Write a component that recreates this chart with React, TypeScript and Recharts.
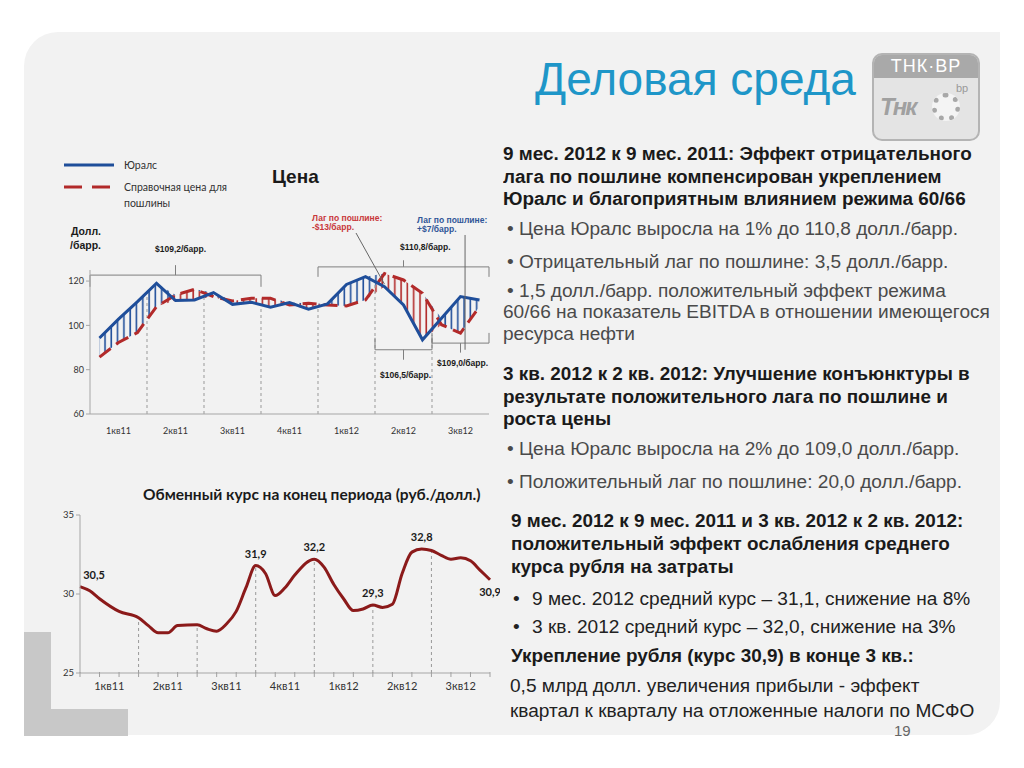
import React from 'react'
import {
  ComposedChart, LineChart, Line, Area, XAxis, YAxis, ReferenceLine, ReferenceDot,
} from 'recharts'

// quarters shown on both x axes
const quarters = ['1кв11', '2кв11', '3кв11', '4кв11', '1кв12', '2кв12', '3кв12']

// monthly prices, $/bbl (Jan 2011 .. Sep 2012)
const uralsPrice = [94.3, 102.8, 110.7, 119, 111.2, 111.5, 114.8, 109.5, 110.4, 108.2, 110.3, 107.3, 109.7, 118.5, 122, 117.5, 109.2, 93.5, 103.2, 113, 111.5]
const dutyRefPrice = [85.7, 92.3, 96.8, 108.5, 113.7, 116.3, 113, 111, 112.2, 112.2, 109.2, 110, 109.2, 108.8, 111.5, 123.4, 120.5, 114.5, 100.3, 96.5, 108.5]

// rub/usd exchange rate, sampled every half month
const rubMonth = [0, 0.5, 1, 2, 3, 3.5, 4, 4.5, 5, 6, 6.5, 7, 7.5, 8, 8.5, 9, 9.5, 10, 10.5, 11, 12, 12.5, 13, 13.5, 14, 14.5, 15, 15.5, 16, 16.5, 17, 17.5, 18, 18.5, 19, 19.5, 20, 20.5, 21]
const rubRate = [30.47, 30.2, 29.7, 28.9, 28.5, 28.0, 27.55, 27.55, 28.0, 28.05, 27.8, 27.65, 28.1, 28.9, 30.4, 31.8, 31.3, 29.9, 30.4, 31.2, 32.2, 31.7, 30.6, 29.7, 28.95, 29.05, 29.3, 29.15, 29.35, 31.3, 32.65, 32.85, 32.75, 32.45, 32.2, 32.3, 32.1, 31.5, 30.9]
const rubLabelMonth = [0, 9, 12, 15, 17.5, 21]
const rubLabelText = ['30,5', '31,9', '32,2', '29,3', '32,8', '30,9']

const priceData = uralsPrice.map((u, i) => {
  const r = dutyRefPrice[i]
  return {
    m: i,
    urals: u,
    ref: r,
    posLag: [r, Math.max(u, r)],
    negLag: [Math.min(u, r), r],
  }
})

const rubData = rubMonth.map((m, i) => ({ m, rate: rubRate[i] }))

const BLUE = '#1f4e9a'
const RED = '#b22a2a'
const GREY = '#7f7f7f'
const CAL = 'Lato, "Open Sans", sans-serif'
const ARIAL = '"Liberation Sans", Arial, sans-serif'

// brackets over the price chart (data coords)
const brackets = [
  { x1: -0.5, x2: 8.5, y: 122.7, tip: 117.4, mid: 127.2 },
  { x1: 11.5, x2: 20.5, y: 126.4, tip: 121.9, mid: 129.4 },
  { x1: 14.5, x2: 17.5, y: 89, tip: 94.4, mid: 84.5 },
  { x1: 17.5, x2: 20.5, y: 92, tip: 96.6, mid: 87.7 },
]
const priceDividers = [
  { x: 2.5, top: 114.6 }, { x: 5.5, top: 116 }, { x: 8.5, top: 110.7 },
  { x: 11.5, top: 108.5 }, { x: 14.5, top: 119.7 }, { x: 17.5, top: 95.8 },
]

const RubTick = (props: any) => {
  const { x, y, payload } = props
  const v = payload.value
  if (Number.isInteger(v)) {
    return <line x1={x} x2={x} y1={y - 1} y2={y + 4} stroke="#a0a0a0" />
  }
  return (
    <text x={x} y={y + 17} textAnchor="middle" fontSize={11} fontFamily={CAL} fill="#333">
      {quarters[Math.floor(v / 3)]}
    </text>
  )
}

function Txt({ x, y, size = 16, bold = false, color = '#1a1a1a', children, font = ARIAL, sx = 1 }: any) {
  return (
    <div style={{
      position: 'absolute', left: x, top: y - size * 0.83, fontSize: size, lineHeight: size + 'px',
      fontWeight: bold ? 700 : 400, color, fontFamily: font, whiteSpace: 'nowrap',
      transform: sx !== 1 ? `scaleX(${sx})` : undefined, transformOrigin: 'left center',
    }}>{children}</div>
  )
}

// right column text helpers
const H = (p: any) => <Txt size={17.5} sx={1.08} bold {...p} />
const B = (p: any) => <Txt size={17.5} sx={1.09} color="#4a4a4a" {...p} />

export default function App() {
  const rubTicks: number[] = []
  for (let i = 0; i <= 21; i++) rubTicks.push(i)
  quarters.forEach((_, q) => rubTicks.push(q * 3 + 1.5))

  return (
    <div style={{ position: 'absolute', left: 0, top: 0, width: 1024, height: 768, background: '#fff', overflow: 'hidden' }}>
      {/* slide background */}
      <div style={{ position: 'absolute', left: 24, top: 32, width: 976, height: 703, background: '#f2f2f2', borderTopLeftRadius: 34, borderBottomRightRadius: 34 }} />
      <div style={{ position: 'absolute', left: 24, top: 632, width: 27, height: 104, background: '#c8c8c8' }} />
      <div style={{ position: 'absolute', left: 24, top: 709, width: 104, height: 27, background: '#c8c8c8' }} />

      {/* title + logo */}
      <div style={{ position: 'absolute', left: 535, top: 56, fontSize: 46, lineHeight: '46px', fontFamily: ARIAL, color: '#1e96c8' }}>Деловая среда</div>
      <div style={{ position: 'absolute', left: 872, top: 53, width: 104, height: 84, border: '2px solid #b4b4b4', borderRadius: 10, background: '#e4e4e4', overflow: 'hidden' }}>
        <div style={{ height: 23, background: '#a9a9a9', color: '#fff', fontFamily: ARIAL, fontSize: 18, lineHeight: '23px', textAlign: 'center', letterSpacing: 1 }}>ТНК·ВР</div>
        <div style={{ position: 'absolute', left: 6, top: 38, fontFamily: ARIAL, fontSize: 24, fontWeight: 700, fontStyle: 'italic', color: '#a0a0a0', letterSpacing: -2 }}>Тнк</div>
        <div style={{ position: 'absolute', left: 58, top: 38, width: 28, height: 28, borderRadius: 14, border: '5px dotted #a8a8a8', boxSizing: 'border-box', background: '#f4f4f4' }} />
        <div style={{ position: 'absolute', left: 82, top: 27, fontFamily: ARIAL, fontSize: 11, color: '#999' }}>bp</div>
      </div>

      {/* legend + headings of price chart */}
      <svg style={{ position: 'absolute', left: 60, top: 158 }} width={60} height={40}>
        <line x1={4} x2={54} y1={7} y2={7} stroke={BLUE} strokeWidth={3} />
        <line x1={4} x2={54} y1={29} y2={29} stroke={RED} strokeWidth={3} strokeDasharray="18 10" />
      </svg>
      <Txt x={124} y={169} size={10.5} font={CAL} color="#333">Юралс</Txt>
      <Txt x={124} y={191} size={10.5} font={CAL} color="#333">Справочная цена для</Txt>
      <Txt x={124} y={207} size={10.5} font={CAL} color="#333">пошлины</Txt>
      <Txt x={272} y={183} size={19} bold>Цена</Txt>
      <Txt x={71} y={235} size={10.5} bold>Долл.</Txt>
      <Txt x={70} y={249} size={10.5} bold>/барр.</Txt>
      <Txt x={155} y={252} size={8.5} bold>$109,2/барр.</Txt>
      <Txt x={400} y={250} size={8.5} bold>$110,8/барр.</Txt>
      <Txt x={380} y={378} size={8.5} bold>$106,5/барр.</Txt>
      <Txt x={437} y={366} size={8.5} bold>$109,0/барр.</Txt>
      <Txt x={312} y={221} size={8.5} bold color="#c8373a">Лаг по пошлине:</Txt>
      <Txt x={312} y={230} size={8.5} bold color="#c8373a">-$13/барр.</Txt>
      <Txt x={417} y={223} size={8.5} bold color="#2f5597">Лаг по пошлине:</Txt>
      <Txt x={417} y={232} size={8.5} bold color="#2f5597">+$7/барр.</Txt>

      <div style={{ position: 'absolute', left: 40, top: 200 }}>
        <ComposedChart width={460} height={264} data={priceData} margin={{ top: 70, right: 11, bottom: 20, left: 0 }}>
          <defs>
            <pattern id="hatchBlue" width="6.3" height="10" patternUnits="userSpaceOnUse">
              <line x1="2" y1="0" x2="2" y2="10" stroke={BLUE} strokeWidth="1.6" />
            </pattern>
            <pattern id="hatchRed" width="6.3" height="10" patternUnits="userSpaceOnUse">
              <line x1="2" y1="0" x2="2" y2="10" stroke={RED} strokeWidth="1.6" />
            </pattern>
          </defs>
          <XAxis dataKey="m" type="number" domain={[-0.5, 20.5]} ticks={[1, 4, 7, 10, 13, 16, 19]}
            tickFormatter={(v: number) => quarters[(v - 1) / 3]} tickLine={false} interval={0}
            stroke="#a6a6a6" tick={{ fontSize: 9, fontFamily: CAL, fill: '#333' }} tickMargin={8} />
          <YAxis type="number" domain={[60, 125]} ticks={[60, 80, 100, 120]} width={50} allowDataOverflow
            stroke="#a6a6a6" tickSize={4} tick={{ fontSize: 9, fontFamily: CAL, fill: '#333' }} />
          {priceDividers.map((d, i) => (
            <ReferenceLine key={'pd' + i} segment={[{ x: d.x, y: 60 }, { x: d.x, y: d.top }]} stroke="#999" strokeDasharray="3 3" />
          ))}
          {brackets.map((b, i) => [
            <ReferenceLine key={'bh' + i} ifOverflow="visible" segment={[{ x: b.x1, y: b.y }, { x: b.x2, y: b.y }]} stroke={GREY} />,
            <ReferenceLine key={'bl' + i} ifOverflow="visible" segment={[{ x: b.x1, y: b.y }, { x: b.x1, y: b.tip }]} stroke={GREY} />,
            <ReferenceLine key={'br' + i} ifOverflow="visible" segment={[{ x: b.x2, y: b.y }, { x: b.x2, y: b.tip }]} stroke={GREY} />,
            <ReferenceLine key={'bm' + i} ifOverflow="visible" segment={[{ x: (b.x1 + b.x2) / 2, y: b.y }, { x: (b.x1 + b.x2) / 2, y: b.mid }]} stroke={GREY} />,
          ])}
          <Area dataKey="posLag" type="linear" stroke="none" fill="url(#hatchBlue)" fillOpacity={1} isAnimationActive={false} />
          <Area dataKey="negLag" type="linear" stroke="none" fill="url(#hatchRed)" fillOpacity={1} isAnimationActive={false} />
          <Line dataKey="ref" type="linear" stroke={RED} strokeWidth={3} strokeDasharray="14 7" dot={false} isAnimationActive={false} />
          <Line dataKey="urals" type="linear" stroke={BLUE} strokeWidth={3} dot={false} isAnimationActive={false} />
          <ReferenceLine ifOverflow="visible" segment={[{ x: 13.5, y: 141.7 }, { x: 15, y: 118.6 }]} stroke="#666" />
          <ReferenceLine ifOverflow="visible" segment={[{ x: 19.24, y: 140.8 }, { x: 19.24, y: 89 }]} stroke="#666" />
        </ComposedChart>
      </div>

      {/* exchange rate chart */}
      <Txt x={143} y={500} size={15.5} bold font={CAL}>Обменный курс на конец периода (руб./долл.)</Txt>
      <div style={{ position: 'absolute', left: 30, top: 505 }}>
        <LineChart width={470} height={198} data={rubData} margin={{ top: 10, right: 10, bottom: 0, left: 0 }}>
          <XAxis dataKey="m" type="number" domain={[0, 21]} ticks={rubTicks} interval={0} tick={<RubTick />}
            tickLine={false} tickSize={0} tickMargin={0} stroke="#a6a6a6" height={30} />
          <YAxis type="number" domain={[25, 35]} ticks={[25, 30, 35]} width={50} stroke="#a6a6a6" tickSize={4}
            tick={{ fontSize: 9.5, fontFamily: CAL, fill: '#333' }} />
          {[3, 6, 9, 12, 15, 18].map((m) => (
            <ReferenceLine key={'rd' + m} segment={[{ x: m, y: 25 }, { x: m, y: rubRate[rubMonth.indexOf(m)] }]} stroke="#999" strokeDasharray="3 3" />
          ))}
          <Line dataKey="rate" type="monotone" stroke="#8b1a1a" strokeWidth={3} dot={false} isAnimationActive={false} />
          {rubLabelMonth.map((m, i) => (
            <ReferenceDot key={'rl' + i} x={m} y={rubRate[rubMonth.indexOf(m)]} r={0} ifOverflow="visible"
              label={{
                value: rubLabelText[i],
                position: i === rubLabelText.length - 1 ? 'bottom' : 'top',
                dx: i === 0 ? 14 : 0,
                offset: 8,
                fontSize: 11, fontWeight: 700, fontFamily: CAL, fill: '#1a1a1a',
              }} />
          ))}
        </LineChart>
      </div>

      {/* right text column */}
      <H x={503} y={161}>9 мес. 2012 к 9 мес. 2011: Эффект отрицательного</H>
      <H x={503} y={184}>лага по пошлине компенсирован укреплением</H>
      <H x={503} y={206}>Юралс и благоприятным влиянием режима 60/66</H>
      <B x={507} y={236}>• Цена Юралс выросла на 1% до 110,8 долл./барр.</B>
      <B x={507} y={269}>• Отрицательный лаг по пошлине: 3,5 долл./барр.</B>
      <B x={507} y={298}>• 1,5 долл./барр. положительный эффект режима</B>
      <B x={503} y={319}>60/66 на показатель EBITDA в отношении имеющегося</B>
      <B x={503} y={341}>ресурса нефти</B>

      <H x={503} y={381}>3 кв. 2012 к 2 кв. 2012: Улучшение конъюнктуры в</H>
      <H x={503} y={404}>результате положительного лага по пошлине и</H>
      <H x={503} y={426}>роста цены</H>
      <B x={507} y={456}>• Цена Юралс выросла на 2% до 109,0 долл./барр.</B>
      <B x={507} y={489}>• Положительный лаг по пошлине: 20,0 долл./барр.</B>

      <H x={511} y={528}>9 мес. 2012 к 9 мес. 2011 и 3 кв. 2012 к 2 кв. 2012:</H>
      <H x={511} y={551}>положительный эффект ослабления среднего</H>
      <H x={511} y={574}>курса рубля на затраты</H>
      <B x={513} y={606} color="#222">•</B>
      <B x={532} y={606} color="#222">9 мес. 2012 средний курс – 31,1, снижение на 8%</B>
      <B x={513} y={634} color="#222">•</B>
      <B x={532} y={634} color="#222">3 кв. 2012 средний курс – 32,0, снижение на 3%</B>
      <H x={511} y={663}>Укрепление рубля (курс 30,9) в конце 3 кв.:</H>
      <B x={510} y={693} color="#222">0,5 млрд долл. увеличения прибыли  - эффект</B>
      <B x={510} y={718} color="#222">квартал к кварталу на отложенные налоги по МСФО</B>
      <Txt x={894} y={735} size={15} color="#666">19</Txt>
    </div>
  )
}
